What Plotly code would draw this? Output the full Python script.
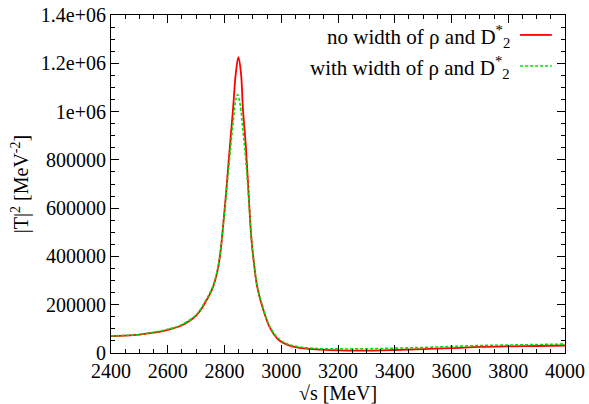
import plotly.graph_objects as go

# sqrt(s) [MeV]
x_red = [2400, 2450, 2500, 2550, 2600, 2650, 2700, 2730, 2760, 2780, 2800, 2815, 2830, 2840,
         2849, 2858, 2865, 2875, 2885, 2895, 2905, 2915, 2935, 2960, 2990, 3020, 3060, 3120,
         3200, 3300, 3400, 3500, 3600, 3700, 3800, 3900, 4000]
y_red = [70000, 72000, 76000, 84000, 96000, 115000, 155000, 205000, 275000, 370000, 590000,
         800000, 1010000, 1160000, 1225000, 1160000, 1010000, 860000, 660000, 470000, 360000,
         275000, 185000, 105000, 55000, 35000, 22000, 15000, 11000, 10000, 12500, 16000,
         20000, 25000, 27500, 29000, 31000]

x_green = [2400, 2450, 2500, 2550, 2600, 2650, 2700, 2730, 2760, 2780, 2800, 2815, 2830, 2840,
           2846, 2855, 2865, 2875, 2885, 2895, 2905, 2915, 2935, 2960, 2990, 3020, 3060, 3120,
           3200, 3300, 3400, 3500, 3600, 3700, 3800, 3900, 4000]
y_green = [71000, 73000, 77000, 86000, 98000, 118000, 158000, 210000, 280000, 375000, 580000,
           770000, 950000, 1050000, 1070000, 1030000, 920000, 800000, 640000, 470000, 365000,
           280000, 190000, 108000, 60000, 38000, 26000, 19000, 17000, 17500, 20000, 23000,
           27000, 31000, 33000, 35000, 37000]

x_ticks = [2400, 2600, 2800, 3000, 3200, 3400, 3600, 3800, 4000]
y_tickvals = [0, 200000, 400000, 600000, 800000, 1000000, 1200000, 1400000]
y_ticktext = ["0", "200000", "400000", "600000", "800000", "1e+06", "1.2e+06", "1.4e+06"]

label_red = "no width of ρ and D<sup>*</sup><sub>2</sub>"
label_green = "with width of ρ and D<sup>*</sup><sub>2</sub>"

FONT = "'Liberation Serif', 'Times New Roman', serif"
FS = 20
FS_LEG = 21

fig = go.Figure()
fig.add_trace(go.Scatter(x=x_red, y=y_red, mode="lines", line=dict(color="#ff0000", width=1.8, shape="spline"),
                         showlegend=False))
fig.add_trace(go.Scatter(x=x_green, y=y_green, mode="lines",
                         line=dict(color="#00e000", width=1.6, dash="3px,2px", shape="spline"),
                         showlegend=False))

axis_common = dict(showline=True, linecolor="black", linewidth=1, mirror="ticks", ticks="inside",
                   ticklen=8, tickcolor="black", showgrid=False, zeroline=False, automargin=False,
                   ticklabeloverflow="allow",
                   tickfont=dict(family=FONT, size=FS, color="black"))

fig.update_xaxes(range=[2400, 4000], tickvals=x_ticks, ticktext=[str(v) for v in x_ticks],
                 minor=dict(dtick=50, ticks="inside", ticklen=4, tickcolor="black", showgrid=False),
                 title=dict(text="√s [MeV]", font=dict(family=FONT, size=FS, color="black"), standoff=1),
                 **axis_common)
fig.update_yaxes(range=[0, 1400000], tickvals=y_tickvals, ticktext=y_ticktext,
                 minor=dict(dtick=50000, ticks="inside", ticklen=4, tickcolor="black", showgrid=False),
                 title=dict(text="|T|<sup>2</sup> [MeV<sup>-2</sup>]", font=dict(family=FONT, size=FS, color="black"), standoff=6),
                 **axis_common)

fig.add_annotation(xref="paper", yref="paper", x=0.883, y=0.935, xanchor="right", yanchor="middle",
                   text=label_red, showarrow=False, font=dict(family=FONT, size=FS_LEG, color="black"))
fig.add_annotation(xref="paper", yref="paper", x=0.883, y=0.846, xanchor="right", yanchor="middle",
                   text=label_green, showarrow=False, font=dict(family=FONT, size=FS_LEG, color="black"))
fig.add_shape(type="line", xref="paper", yref="paper", x0=0.901, x1=0.971, y0=0.941, y1=0.941,
              line=dict(color="#ff0000", width=1.8))
fig.add_shape(type="line", xref="paper", yref="paper", x0=0.901, x1=0.971, y0=0.849, y1=0.849,
              line=dict(color="#00e000", width=1.6, dash="3px,2px"))

fig.update_layout(width=589, height=404, margin=dict(l=111, r=24, t=15, b=51),
                  paper_bgcolor="white", plot_bgcolor="white",
                  font=dict(family=FONT, size=FS, color="black"))

# remove the browser's default 8px body margin so the figure sits at the page origin
fig.write_html("out.html", config={"displayModeBar": False},
               post_script="document.body.style.margin='0';document.body.style.overflow='hidden';")
